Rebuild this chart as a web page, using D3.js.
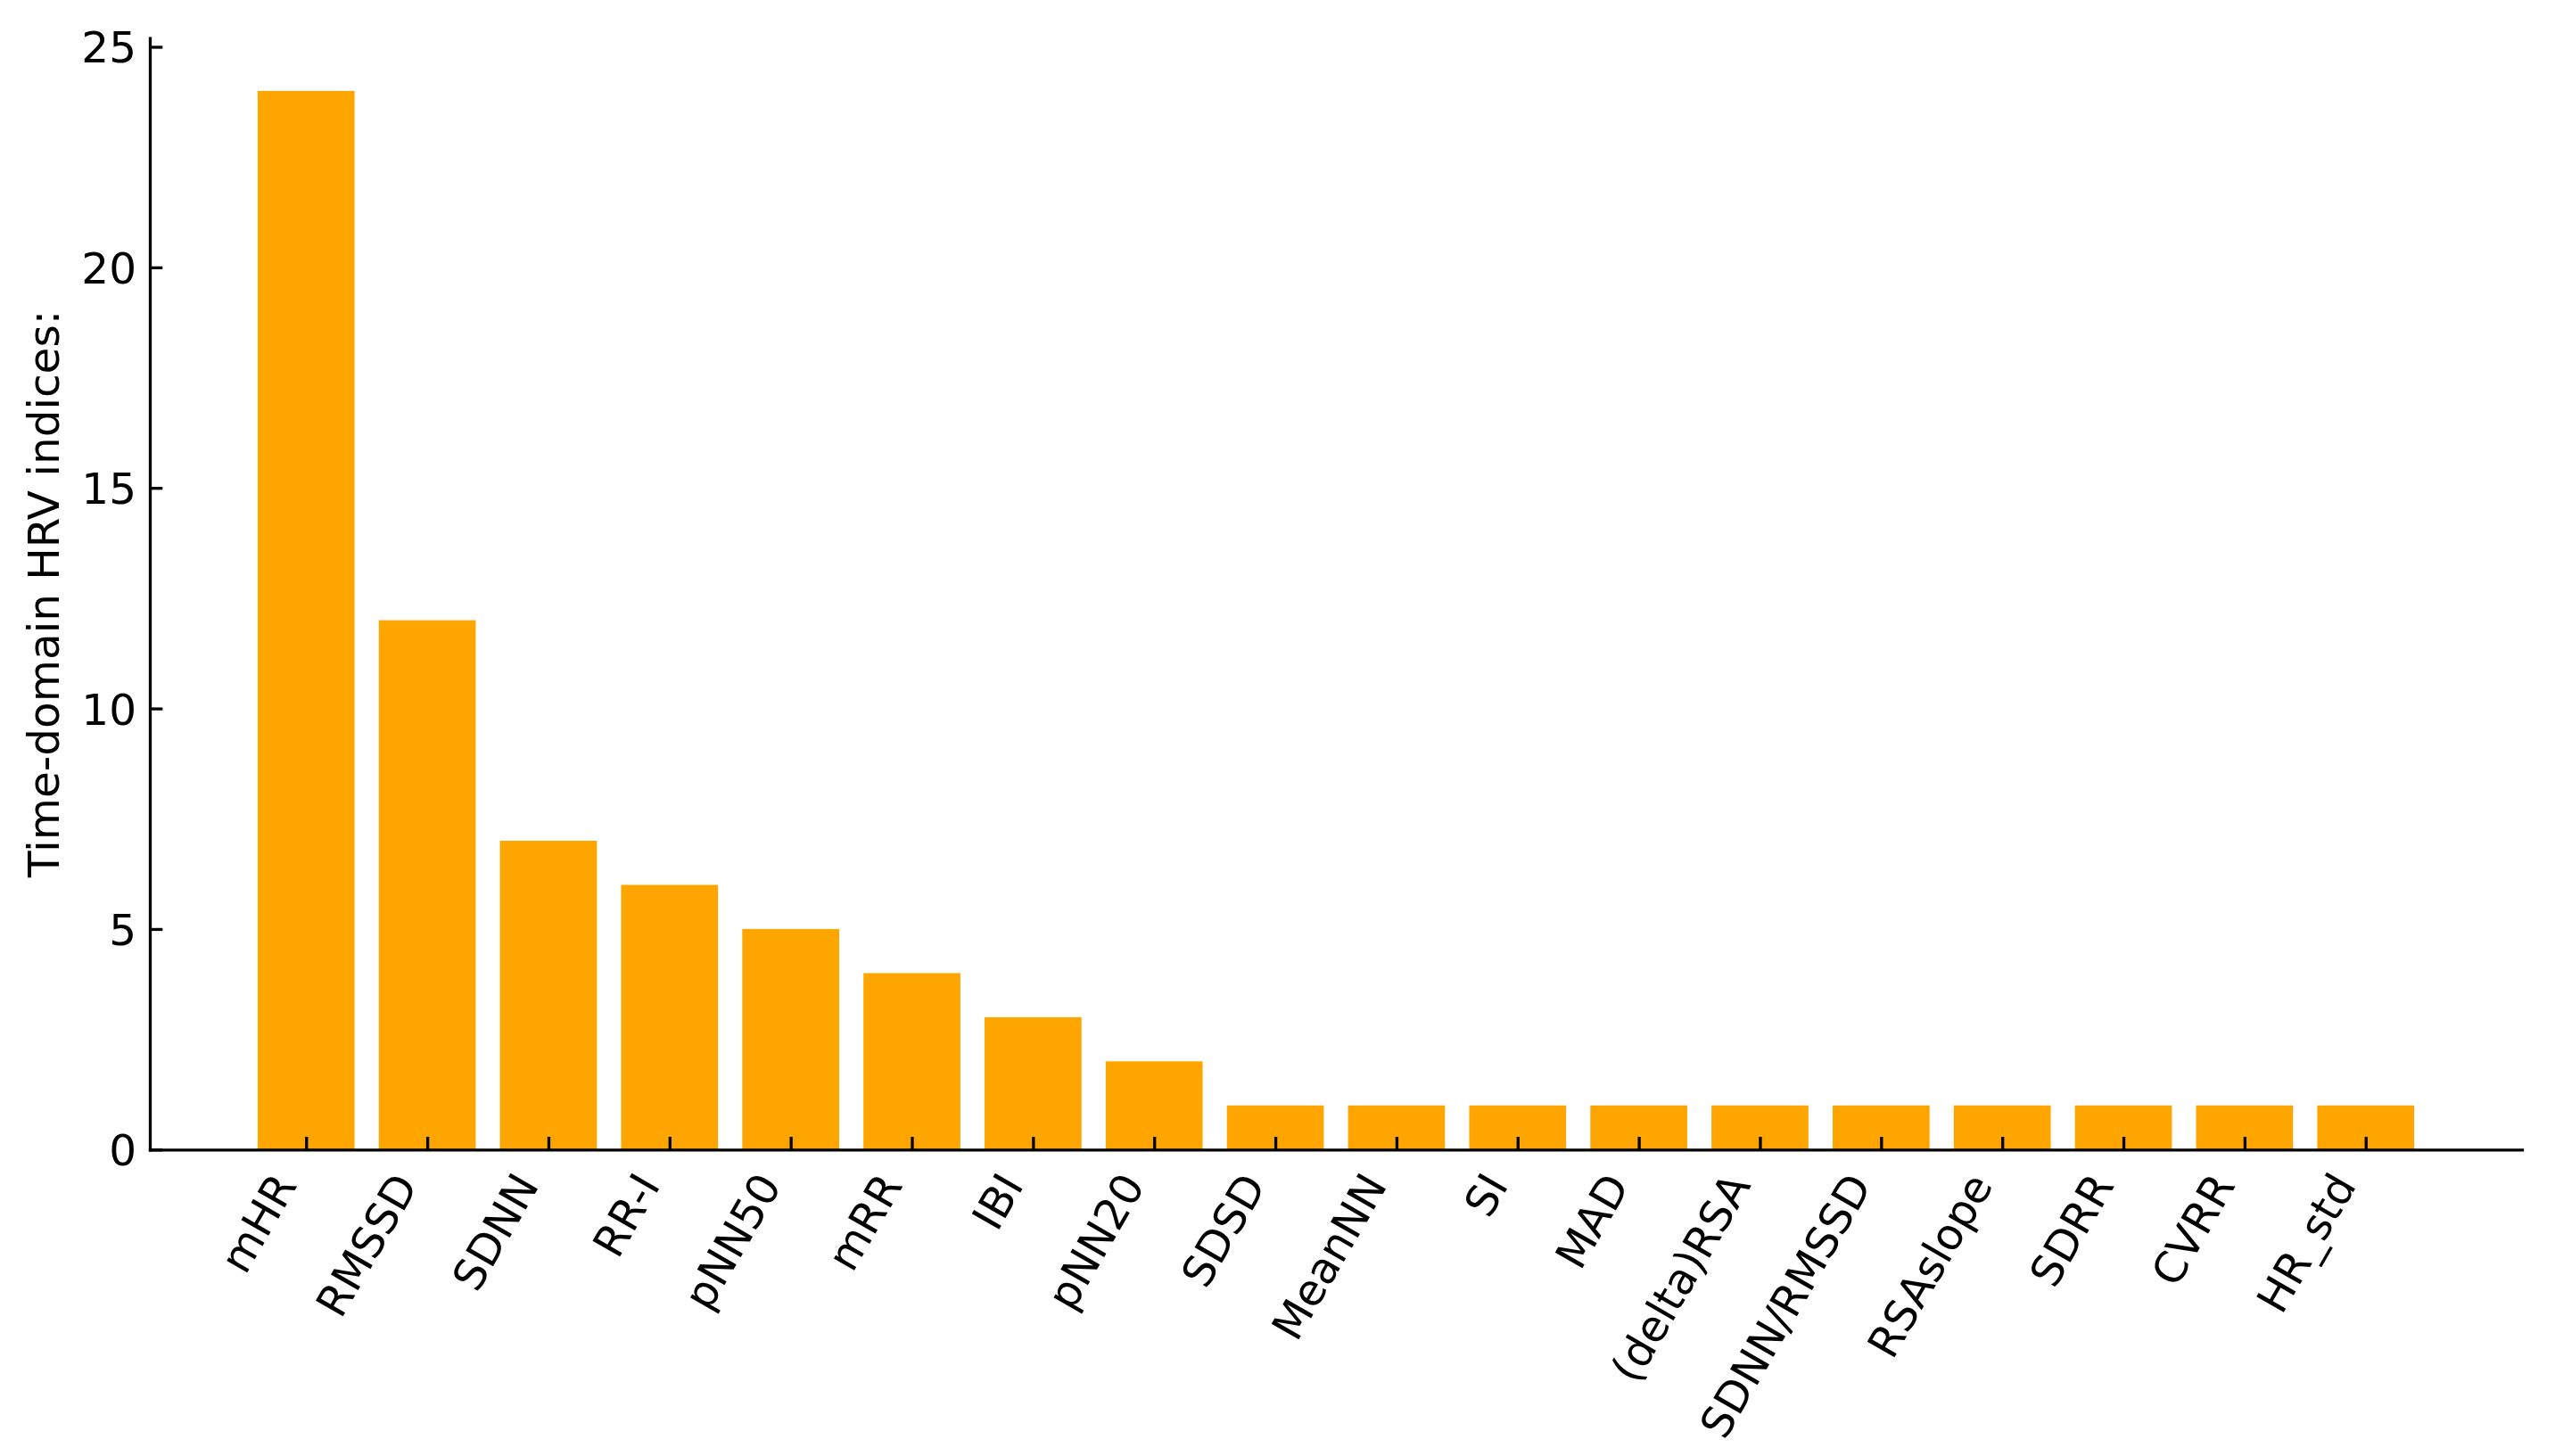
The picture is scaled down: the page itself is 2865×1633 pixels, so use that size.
<!DOCTYPE html>
<html>
<head>
<meta charset="utf-8">
<script src="https://cdn.jsdelivr.net/npm/d3@7"></script>
<style>
  body { margin: 0; background: #fff; }
  svg { display: block; }
  text { font-family: "DejaVu Sans", sans-serif; fill: #000; }
</style>
</head>
<body>
<div id="chart"></div>
<script>
// chart data
const indices = ["mHR", "RMSSD", "SDNN", "RR-I", "pNN50", "mRR", "IBI", "pNN20", "SDSD",
  "MeanNN", "SI", "MAD", "(delta)RSA", "SDNN/RMSSD", "RSAslope", "SDRR", "CVRR", "HR_std"];
const counts = [24, 12, 7, 6, 5, 4, 3, 2, 1, 1, 1, 1, 1, 1, 1, 1, 1, 1];
const yTicks = [0, 5, 10, 15, 20, 25];
const yLabel = "Time-domain HRV indices:";

const width = 2865, height = 1633;
const margin = { top: 42.6, right: 37, bottom: 343.7, left: 168 };
const fontSize = 48.5;
const tickLen = 14.3;
const lineW = 3.3;

const svg = d3.select("#chart")
  .append("svg")
  .attr("width", width)
  .attr("height", height);

svg.append("rect").attr("width", width).attr("height", height).attr("fill", "#fff");

// scales (matplotlib-like margins around the bars)
const n = indices.length;
const xPad = 0.4 + 0.05 * (n - 1 + 0.8);
const xScale = d3.scaleLinear()
  .domain([-xPad, n - 1 + xPad])
  .range([margin.left, width - margin.right]);

const yMax = d3.max(counts) * 1.05;
const yScale = d3.scaleLinear()
  .domain([0, yMax])
  .range([height - margin.bottom, margin.top]);

// bars
svg.append("g")
  .selectAll("rect")
  .data(counts)
  .join("rect")
  .attr("x", (d, i) => xScale(i - 0.4))
  .attr("width", (d, i) => xScale(i + 0.4) - xScale(i - 0.4))
  .attr("y", d => yScale(d))
  .attr("height", d => yScale(0) - yScale(d))
  .attr("fill", "#FFA500");

// x axis
const xAxis = svg.append("g")
  .attr("transform", `translate(0, ${yScale(0)})`)
  .call(d3.axisBottom(xScale)
    .tickValues(d3.range(n))
    .tickFormat(i => indices[i])
    .tickSizeInner(-tickLen)
    .tickSizeOuter(0));

xAxis.selectAll("text")
  .attr("x", 0).attr("y", 0).attr("dy", 0)
  .attr("text-anchor", "end")
  .attr("transform", "translate(-10, 40) rotate(-60)")
  .style("font-size", fontSize + "px");

// y axis
const yAxis = svg.append("g")
  .attr("transform", `translate(${margin.left}, 0)`)
  .call(d3.axisLeft(yScale)
    .tickValues(yTicks)
    .tickSizeInner(-tickLen)
    .tickSizeOuter(0)
    .tickPadding(15));

yAxis.selectAll("text")
  .attr("dy", "0.36em")
  .style("font-size", fontSize + "px");

[xAxis, yAxis].forEach(ax => {
  ax.select(".domain").attr("stroke", "#000").attr("stroke-width", lineW)
    .attr("stroke-linecap", "square");
  ax.selectAll(".tick line").attr("stroke", "#000").attr("stroke-width", lineW);
  ax.attr("font-family", null).attr("font-size", null);
});

// y axis label
svg.append("text")
  .attr("transform", `translate(66, ${(yScale(0) + yScale(yMax)) / 2}) rotate(-90)`)
  .attr("text-anchor", "middle")
  .style("font-size", fontSize + "px")
  .text(yLabel);
</script>
</body>
</html>
